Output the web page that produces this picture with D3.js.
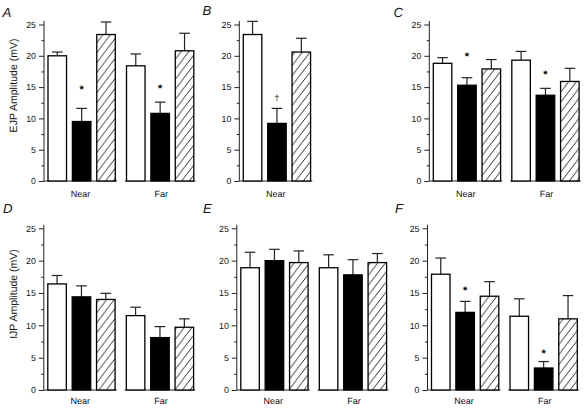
<!DOCTYPE html>
<html><head><meta charset="utf-8">
<script src="https://cdn.jsdelivr.net/npm/d3@7"></script>
<style>
html,body{margin:0;padding:0;background:#fff;}
svg{display:block;font-family:"Liberation Sans",Arial,Helvetica,sans-serif;text-rendering:geometricPrecision;}
</style></head>
<body><svg id="chart" width="585" height="409"></svg>
<script>
// ---- data ----
const groups = ["Near", "Far"];
const treatments = ["control", "treated", "recovery"];
const yTicks = [0, 5, 10, 15, 20, 25];
const yMinorTicks = [2.5, 7.5, 12.5, 17.5, 22.5];
const panelNames = ["A", "B", "C", "D", "E", "F"];
const panelGroups = [["Near","Far"], ["Near"], ["Near","Far"], ["Near","Far"], ["Near","Far"], ["Near","Far"]];
const yLabels = ["EJP Amplitude (mV)", "IJP Amplitude (mV)"];

// means: [Near..., Far...] per panel
const meanA = [[20.0, 9.5, 23.4], [18.4, 10.8, 20.8]];
const semA  = [[0.6, 2.1, 2.0], [1.9, 1.8, 2.8]];
const meanB = [[23.4, 9.2, 20.6]];
const semB  = [[2.1, 2.4, 2.2]];
const meanC = [[18.8, 15.3, 17.9], [19.3, 13.7, 15.9]];
const semC  = [[0.9, 1.2, 1.5], [1.4, 1.1, 2.1]];
const meanD = [[16.4, 14.4, 14.0], [11.5, 8.1, 9.7]];
const semD  = [[1.3, 1.7, 0.95], [1.3, 1.7, 1.3]];
const meanE = [[18.9, 20.0, 19.7], [18.9, 17.8, 19.7]];
const semE  = [[2.4, 1.75, 1.8], [2.0, 2.35, 1.4]];
const meanF = [[17.9, 12.0, 14.5], [11.4, 3.4, 11.0]];
const semF  = [[2.5, 1.7, 2.25], [2.7, 1.0, 3.6]];

// significance markers: panel, group, bar index, symbol, y value (centre)
const markPanel = ["A", "A", "B", "C", "C", "F", "F"];
const markGroup = ["Near", "Far", "Near", "Near", "Far", "Near", "Far"];
const markBar   = [1, 1, 1, 1, 1, 1, 1];
const markSym   = ["*", "*", "\u2020", "*", "*", "*", "*"];
const markVal   = [15.2, 15.3, 13.4, 20.4, 17.5, 16.0, 6.2];

// ---- layout ----
const means = [meanA, meanB, meanC, meanD, meanE, meanF];
const sems = [semA, semB, semC, semD, semE, semF];
const axisX = [44, 239.3, 429.3, 43.8, 236.8, 427.5];
const rowY = [[181, 24.5], [390, 228.3]];
const letterPos = [[2.5, 16.7], [202.5, 15], [393.5, 16.7], [3, 213.3], [203, 213.3], [395, 213.3]];
const xLabelY = [196.8, 404.3];
const yLabelPos = [[13.5, 85.5], [13.5, 294]];

const svg = d3.select("#chart");
const defs = svg.append("defs");
const pw = 7.6, ph = 10;
const pat = defs.append("pattern").attr("id", "hatch").attr("patternUnits", "userSpaceOnUse")
  .attr("width", pw).attr("height", ph);
pat.append("rect").attr("width", pw).attr("height", ph).attr("fill", "#fff");
[-1, 0, 1].forEach(k => {
  pat.append("line").attr("x1", k * pw).attr("y1", ph).attr("x2", (k + 1) * pw).attr("y2", 0)
    .attr("stroke", "#111").attr("stroke-width", 0.9);
});
const fills = ["#fff", "#000", "url(#hatch)"];
const ink = "#222";

panelNames.forEach((name, pi) => {
  const row = pi < 3 ? 0 : 1;
  const x0 = axisX[pi];
  const y = d3.scaleLinear().domain([0, 25]).range(rowY[row]);
  const g = svg.append("g");
  const pg = panelGroups[pi];
  const gx = d3.scaleBand().domain(groups).range([x0 + 4, x0 + 149.8]).paddingInner(0.143).paddingOuter(0);
  const bx = d3.scaleBand().domain(d3.range(treatments.length)).range([0, gx.bandwidth()]).paddingInner(0.24).paddingOuter(0);

  // y axis
  const yAxis = d3.axisLeft(y).tickValues(yTicks).tickSize(5).tickPadding(3).tickFormat(d3.format("d"));
  const ya = g.append("g").attr("transform", `translate(${x0},0)`).call(yAxis);
  ya.select(".domain").remove();
  ya.selectAll(".tick line").attr("stroke", ink).attr("stroke-width", 1);
  ya.selectAll(".tick text").attr("font-size", 8.8).attr("fill", "#111")
    .attr("font-family", "'Liberation Sans',Arial,sans-serif");
  const yMinor = d3.axisLeft(y).tickValues(yMinorTicks).tickSize(2.6).tickFormat("");
  const ym = g.append("g").attr("transform", `translate(${x0},0)`).call(yMinor);
  ym.select(".domain").remove();
  ym.selectAll(".tick line").attr("stroke", ink);
  g.append("line").attr("x1", x0).attr("x2", x0).attr("y1", y(0)).attr("y2", y(25) - 3.5)
    .attr("stroke", ink).attr("stroke-width", 1);

  pg.forEach((grp, gi) => {
    const gStart = gx(grp), gEnd = gStart + gx.bandwidth();
    // baseline segment
    g.append("line").attr("x1", gi === 0 ? x0 : gStart - 1.7).attr("x2", gEnd + 1.7)
      .attr("y1", y(0)).attr("y2", y(0)).attr("stroke", ink).attr("stroke-width", 1.1);
    // x label
    g.append("text").attr("x", (gi === 0 ? (x0 + gEnd + 1.7) / 2 : (gStart + gEnd) / 2 + 1))
      .attr("y", xLabelY[row]).attr("text-anchor", "middle").attr("font-size", 9).attr("fill", "#111").text(grp);

    const vals = means[pi][gi], errs = sems[pi][gi];
    vals.forEach((v, bi) => {
      const bxl = gStart + bx(bi), bw = bx.bandwidth();
      const cx = bxl + bw / 2;
      const top = y(v + errs[bi]);
      // error bar (upward)
      g.append("line").attr("x1", cx).attr("x2", cx).attr("y1", y(v)).attr("y2", top)
        .attr("stroke", ink).attr("stroke-width", 1.2);
      g.append("line").attr("x1", cx - 5.3).attr("x2", cx + 5.3).attr("y1", top).attr("y2", top)
        .attr("stroke", ink).attr("stroke-width", 1.2);
      g.append("rect").attr("x", bxl).attr("y", y(v)).attr("width", bw).attr("height", y(0) - y(v))
        .attr("fill", fills[bi]).attr("stroke", "#000").attr("stroke-width", 1.3);
    });
  });

  // significance markers
  markPanel.forEach((mp, mi) => {
    if (mp !== name) return;
    const cx = gx(markGroup[mi]) + bx(markBar[mi]) + bx.bandwidth() / 2;
    const isStar = markSym[mi] === "*";
    g.append("text").attr("x", cx).attr("y", y(markVal[mi]) + (isStar ? 7 : 3.5))
      .attr("text-anchor", "middle").attr("font-size", isStar ? 11 : 8.5).attr("font-weight", isStar ? "bold" : "normal")
      .attr("fill", "#000").text(markSym[mi]);
  });

  // panel letter
  g.append("text").attr("x", letterPos[pi][0]).attr("y", letterPos[pi][1])
    .attr("font-size", 13.2).attr("font-style", "italic").attr("fill", "#111").text(name);
});

// y axis titles
yLabels.forEach((lab, i) => {
  svg.append("text").attr("transform", `translate(${yLabelPos[i][0]},${yLabelPos[i][1]}) rotate(-90)`)
    .attr("text-anchor", "middle").attr("dominant-baseline", "central")
    .attr("font-size", 10.5).attr("fill", "#111").text(lab);
});
</script>
</body></html>
